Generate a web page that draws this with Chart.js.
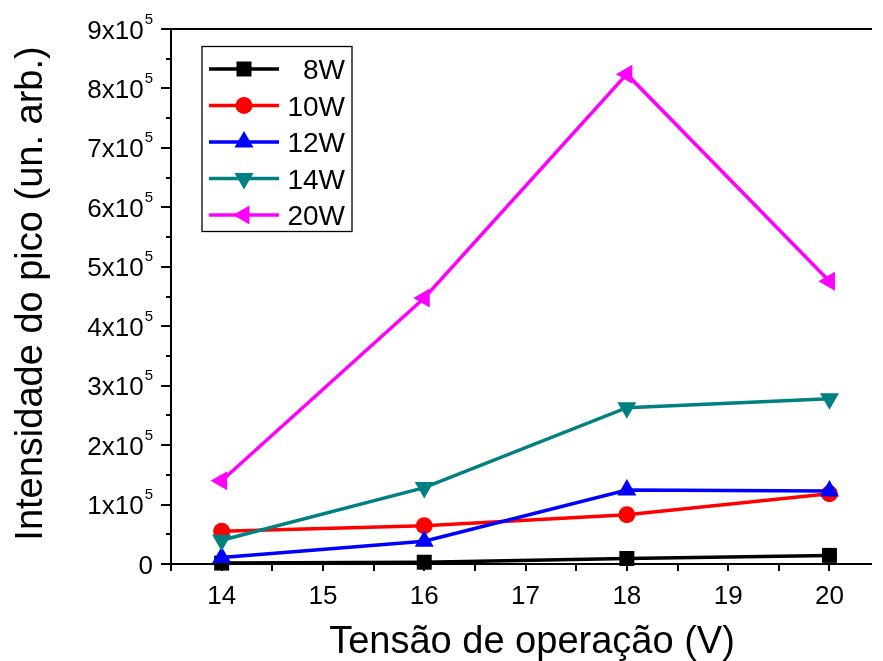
<!DOCTYPE html>
<html>
<head>
<meta charset="utf-8">
<script src="https://cdn.jsdelivr.net/npm/chart.js@4.4.1/dist/chart.umd.min.js"></script>
<style>
  html, body { margin: 0; padding: 0; background: #ffffff; }
  canvas { display: block; }
</style>
</head>
<body>
<canvas id="c" width="883" height="661"></canvas>
<script>
// Operating voltage (V)
const voltages = [14, 16, 18, 20];

// Peak intensity (arb. units) for each RF power
const p8W  = [1500, 3000, 9300, 14500];
const p10W = [55000, 64400, 83000, 118000];
const p12W = [11000, 38400, 124300, 122800];
const p14W = [40000, 128500, 263000, 278000];
const p20W = [140000, 447500, 824000, 475500];

const seriesNames = ['8W', '10W', '12W', '14W', '20W'];

// Axis ticks
const xTickValues = [14, 15, 16, 17, 18, 19, 20];
const yTickMantissas = [0, 1, 2, 3, 4, 5, 6, 7, 8, 9];
const yTickExponent = 5;

const FONT = '"Liberation Sans", Arial, Helvetica, sans-serif';

const seriesStyles = [
  { color: '#000000', pointStyle: 'rect',     radius: 10.6, rotation: 0 },
  { color: '#ff0000', pointStyle: 'circle',   radius: 8.5,  rotation: 0 },
  { color: '#0000ff', pointStyle: 'triangle', radius: 11,   rotation: 0 },
  { color: '#008080', pointStyle: 'triangle', radius: 11,   rotation: 180 },
  { color: '#ff00ff', pointStyle: 'triangle', radius: 11,   rotation: 270 }
];
const seriesValues = [p8W, p10W, p12W, p14W, p20W];

const datasets = seriesValues.map((vals, i) => ({
  label: seriesNames[i],
  data: voltages.map((v, k) => ({ x: v, y: vals[k] })),
  borderColor: seriesStyles[i].color,
  backgroundColor: seriesStyles[i].color,
  borderWidth: 3.5,
  pointStyle: seriesStyles[i].pointStyle,
  pointRadius: seriesStyles[i].radius,
  pointRotation: seriesStyles[i].rotation,
  pointBackgroundColor: seriesStyles[i].color,
  pointBorderColor: seriesStyles[i].color,
  pointBorderWidth: 0,
  tension: 0,
  clip: false,
  order: seriesValues.length - i
}));

// Marker shapes for the legend, same geometry as the chart's points
function drawMarker(ctx, style, x, y) {
  const r = style.radius;
  ctx.save();
  ctx.fillStyle = style.color;
  ctx.beginPath();
  if (style.pointStyle === 'rect') {
    const s = Math.SQRT1_2 * r;
    ctx.rect(x - s, y - s, 2 * s, 2 * s);
  } else if (style.pointStyle === 'circle') {
    ctx.arc(x, y, r, 0, Math.PI * 2);
  } else {
    let rad = style.rotation * Math.PI / 180;
    ctx.moveTo(x + Math.sin(rad) * r, y - Math.cos(rad) * r);
    rad += 2 * Math.PI / 3;
    ctx.lineTo(x + Math.sin(rad) * r, y - Math.cos(rad) * r);
    rad += 2 * Math.PI / 3;
    ctx.lineTo(x + Math.sin(rad) * r, y - Math.cos(rad) * r);
    ctx.closePath();
  }
  ctx.fill();
  ctx.restore();
}

const axesPlugin = {
  id: 'originAxes',
  beforeDatasetsDraw(chart) {
    const ctx = chart.ctx;
    const xs = chart.scales.x, ys = chart.scales.y;
    const a = chart.chartArea;
    ctx.save();
    ctx.strokeStyle = '#000';
    ctx.lineWidth = 2;
    ctx.lineCap = 'butt';
    // frame: left, bottom, top
    ctx.beginPath();
    ctx.moveTo(a.left, a.top - 1); ctx.lineTo(a.left, a.bottom + 1);
    ctx.moveTo(a.left - 1, a.bottom); ctx.lineTo(a.right, a.bottom);
    ctx.moveTo(a.left - 1, a.top); ctx.lineTo(a.right, a.top);
    ctx.stroke();

    // x ticks (major and minor)
    ctx.beginPath();
    for (let v = xs.min; v <= xs.max + 1e-9; v += 0.5) {
      const px = Math.round(xs.getPixelForValue(v));
      ctx.moveTo(px, a.bottom); ctx.lineTo(px, a.bottom + 7);
    }
    ctx.stroke();

    // y ticks
    ctx.beginPath();
    for (let m = 0; m <= 9; m += 0.5) {
      const py = Math.round(ys.getPixelForValue(m * Math.pow(10, yTickExponent)));
      const len = Number.isInteger(m) ? 10 : 5;
      ctx.moveTo(a.left, py); ctx.lineTo(a.left - len, py);
    }
    ctx.stroke();

    // x tick labels
    ctx.fillStyle = '#000';
    ctx.font = '26px ' + FONT;
    ctx.textAlign = 'center';
    ctx.textBaseline = 'alphabetic';
    xTickValues.forEach(v => {
      ctx.fillText(String(v), xs.getPixelForValue(v), a.bottom + 40);
    });

    // y tick labels with superscript exponent
    const labelRight = a.left - 18;
    yTickMantissas.forEach(m => {
      const py = ys.getPixelForValue(m * Math.pow(10, yTickExponent));
      const base = py + 9.5;
      if (m === 0) {
        ctx.font = '26px ' + FONT;
        ctx.textAlign = 'right';
        ctx.fillText('0', labelRight, base);
        return;
      }
      ctx.font = '15px ' + FONT;
      ctx.textAlign = 'right';
      const sup = String(yTickExponent);
      ctx.fillText(sup, labelRight, base - 15);
      const supW = ctx.measureText(sup).width;
      ctx.font = '26px ' + FONT;
      ctx.fillText(m + 'x10', labelRight - supW - 1, base);
    });

    // axis titles
    ctx.font = '38px ' + FONT;
    ctx.textAlign = 'center';
    ctx.fillText('Tensão de operação (V)', a.left + 361, a.bottom + 89);
    ctx.save();
    ctx.translate(42, (a.top + a.bottom) / 2 - 3);
    ctx.rotate(-Math.PI / 2);
    ctx.fillText('Intensidade do pico (un. arb.)', 0, 0);
    ctx.restore();
    ctx.restore();
  },
  afterDraw(chart) {
    const ctx = chart.ctx;
    const a = chart.chartArea;
    const bx = a.left + 31, by = a.top + 17.5, bw = 150, bh = 185;
    ctx.save();
    ctx.fillStyle = '#fff';
    ctx.fillRect(bx, by, bw, bh);
    ctx.strokeStyle = '#000';
    ctx.lineWidth = 1.3;
    ctx.strokeRect(bx, by, bw, bh);
    seriesNames.forEach((name, i) => {
      const st = seriesStyles[i];
      const cy = by + 22.5 + i * 36.5;
      ctx.strokeStyle = st.color;
      ctx.lineWidth = 3.5;
      ctx.beginPath();
      ctx.moveTo(bx + 7, cy); ctx.lineTo(bx + 77, cy);
      ctx.stroke();
      drawMarker(ctx, st, bx + 42, cy);
      ctx.fillStyle = '#000';
      ctx.font = '28px ' + FONT;
      ctx.textAlign = 'right';
      ctx.textBaseline = 'alphabetic';
      ctx.fillText(name, bx + bw - 7, cy + 10);
    });
    ctx.restore();
  }
};

new Chart(document.getElementById('c'), {
  type: 'line',
  data: { datasets },
  options: {
    responsive: false,
    animation: false,
    devicePixelRatio: 1,
    layout: { padding: { left: 171, top: 29, right: 0, bottom: 97 } },
    plugins: { legend: { display: false }, tooltip: { enabled: false } },
    scales: {
      x: { type: 'linear', display: false, min: 13.5, max: 20.42 },
      y: { type: 'linear', display: false, min: 0, max: 900000 }
    }
  },
  plugins: [axesPlugin]
});
</script>
</body>
</html>
